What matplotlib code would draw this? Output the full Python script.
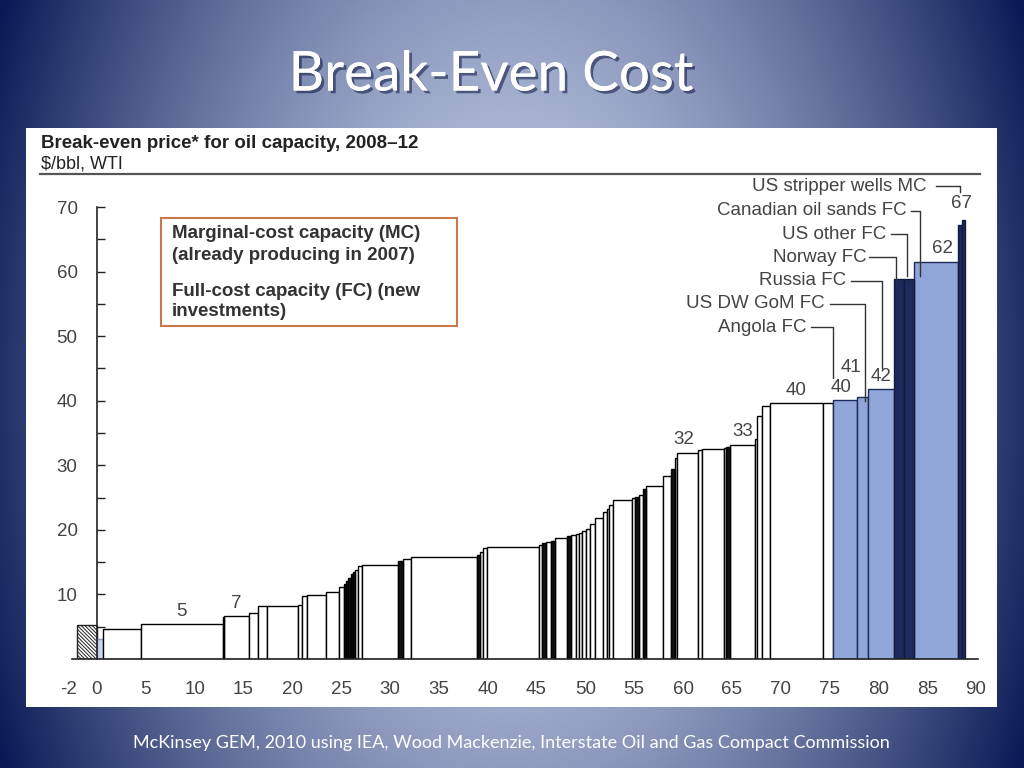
"""
Break-even cost curve for oil capacity (McKinsey GEM slide), rebuilt as a
variable-width bar chart on a blue gradient slide background.

Output: out.png (1024x768)
"""
import numpy as np
import matplotlib
matplotlib.use("Agg")
import matplotlib.pyplot as plt
import matplotlib.patches as mpatches
import matplotlib.patheffects as pe

W, H = 1024, 768

# ── Data ──────────────────────────────────────────────────────────────────────
# capacity segments, read left to right (million bbl/d), starting at -2
START = -2.0
widths = [2.0, 0.6, 3.87, 8.39, 0.14, 2.6, 0.9, 0.9, 3.2, 0.35, 0.55, 1.9, 1.4, 0.5,
          0.22, 0.22, 0.22, 0.22, 0.22, 0.3, 0.45, 3.65, 0.5, 0.8, 6.8, 0.3, 0.3, 0.45,
          5.35, 0.3, 0.4, 0.5, 0.35, 1.25, 0.4, 0.5, 0.4, 0.3, 0.4, 0.4, 0.5, 0.8, 0.4,
          0.25, 0.35, 2.0, 0.3, 0.4, 0.4, 0.35, 1.65, 0.9, 0.4, 0.2, 2.15, 0.35, 2.3,
          0.25, 0.35, 2.55, 0.25, 0.5, 0.85, 5.35, 1.1,
          2.4, 1.15, 2.65, 1.05, 1.0, 4.5, 0.45, 0.25]
# break-even price, $/bbl
heights = [5.2, 3.1, 4.6, 5.4, 6.5, 6.65, 7.1, 8.15, 8.15, 8.4, 9.7, 9.9, 10.35, 11.1,
           11.6, 12.1, 12.6, 13.1, 13.5, 13.8, 14.4, 14.6, 15.2, 15.55, 15.8, 16.1, 16.5, 17.2,
           17.3, 17.7, 18.0, 18.1, 18.3, 18.8, 19.0, 19.2, 19.3, 19.55, 19.9, 20.1, 20.9, 21.9, 22.8,
           23.2, 23.8, 24.7, 24.9, 25.1, 25.4, 26.35, 26.8, 28.3, 29.4, 31.2, 31.9, 32.35, 32.55,
           32.7, 32.85, 33.2, 34.0, 37.7, 39.2, 39.7, 39.7,
           40.1, 40.6, 41.75, 58.8, 58.8, 61.5, 67.2, 68.0]
# h = hatched, p = pale, w = MC white, k = MC dense (black), f = FC blue, n = navy
kinds = ("hpwwkwwwwwwwww" + "kkkkk" + "wwwkwwkwww" + "wkwkwk" + "w" * 12
         + "kwkwwkwwwwwkwwwwww" + "fffnnfnn")
assert len(kinds) == len(widths) == len(heights)

value_labels = ["5", "7", "32", "33", "40", "40", "41", "42", "62", "67"]
value_label_bars = [3, 5, 54, 59, 63, 65, 66, 67, 70, 71]

callouts = ["US stripper wells MC", "Canadian oil sands FC", "US other FC", "Norway FC",
            "Russia FC", "US DW GoM FC", "Angola FC"]

xticks = [-2] + list(range(0, 91, 5))
yticks = list(range(10, 71, 10))

# ── Style ─────────────────────────────────────────────────────────────────────
plt.rcParams.update({
    "font.family": ["Liberation Sans", "DejaVu Sans"],
    "hatch.linewidth": 0.7,
    "figure.dpi": 100,
})
TXT = "#444444"
FILL = {"h": "white", "p": "#c9d5e8", "w": "white", "k": "#111111",
        "f": "#91a6d8", "n": "#1d2b5c"}
EDGE = {"h": "#222222", "p": "#8899bb", "w": "black", "k": "black",
        "f": "#1d2b5c", "n": "#111a3a"}


def fx(px):
    return px / W


def fy(py):
    return 1 - py / H


fig = plt.figure(figsize=(W / 100, H / 100), dpi=100)

# slide background: light centre fading to dark navy at the edges
bg = fig.add_axes([0, 0, 1, 1], zorder=-10)
yy, xx = np.mgrid[0:H, 0:W]
r = np.sqrt(((xx - 512) / 560.0) ** 2 + ((yy - 384) / 900.0) ** 2)
t = np.clip(r, 0, 1)[..., None] ** 1.5
c0 = np.array([196, 207, 232]) / 255
c1 = np.array([10, 26, 86]) / 255
bg.imshow(c0 * (1 - t) + c1 * t, extent=(0, W, H, 0), aspect="auto")
bg.set_axis_off()

fig.text(fx(491), fy(75), "Break-Even Cost", ha="center", va="center",
         fontsize=39.5, color="white", family=["Lato", "DejaVu Sans"],
         path_effects=[pe.withSimplePatchShadow(offset=(2, -2), shadow_rgbFace="#0a1440",
                                                alpha=0.55), pe.Normal()])
fig.text(fx(511), fy(743), "McKinsey GEM, 2010 using IEA, Wood Mackenzie, Interstate Oil and "
         "Gas Compact Commission", ha="center", va="center", fontsize=13,
         color="white", family=["Lato", "DejaVu Sans"])

# white chart panel
fig.patches.append(mpatches.Rectangle((fx(26), fy(707)), fx(997) - fx(26), fy(128) - fy(707),
                                      transform=fig.transFigure, facecolor="white",
                                      edgecolor="none", zorder=-5))
fig.text(fx(41), fy(143), "Break-even price* for oil capacity, 2008\u201312", ha="left",
         va="center", fontsize=13.5, fontweight="bold", color="#222222")
fig.text(fx(41), fy(164), "$/bbl, WTI", ha="left", va="center", fontsize=13,
         color="#222222")
fig.add_artist(plt.Line2D([fx(40), fx(980)], [fy(174), fy(174)], color="#555555",
                          lw=1.6, transform=fig.transFigure))

# ── Chart ─────────────────────────────────────────────────────────────────────
PXX, PXY = 9.767, 6.457          # pixels per data unit
X0, Y0 = 97, 659                 # pixel position of (0, 0)
XL, YL = (-3, 91), (0, 75)
ax = fig.add_axes([fx(X0 + XL[0] * PXX), fy(Y0), (XL[1] - XL[0]) * PXX / W,
                   (YL[1] - YL[0]) * PXY / H])
ax.set_facecolor("none")

lefts = START + np.concatenate([[0], np.cumsum(widths)[:-1]])
for k in "hpwkfn":
    idx = [i for i, kk in enumerate(kinds) if kk == k]
    ax.bar(lefts[idx], [heights[i] for i in idx], width=[widths[i] for i in idx],
           align="edge", color=FILL[k], edgecolor=EDGE[k], linewidth=1.0,
           hatch="\\" * 9 if k == "h" else None, zorder=3)

# value labels above the bars
lab_off = {3: (0, 1.9), 5: (0.0, 2.0), 54: (-0.4, 2.1), 59: (0.0, 2.1), 63: (0.0, 1.9),
           65: (-0.4, 2.0), 66: (-1.2, 4.6), 67: (0.0, 2.0), 70: (0.7, 2.0), 71: (0.1, 3.3)}
for txt, b in zip(value_labels, value_label_bars):
    dx, dy = lab_off[b]
    ax.text(lefts[b] + widths[b] / 2 + dx, heights[b] + dy, txt, ha="center",
            va="center", fontsize=13.5, color=TXT, zorder=6)

# call-out names with leader lines: (text right x, text y, line start x, corner x, end y)
lead = [(84.9, 73.2, 85.9, 88.4, 72.3), (82.9, 69.4, 83.3, 84.3, 59.3),
        (80.8, 65.8, 81.3, 82.9, 59.3), (78.8, 62.2, 79.0, 81.8, 58.7),
        (76.7, 58.6, 77.2, 80.4, 45.0), (74.5, 55.0, 75.0, 78.65, 40.0),
        (72.6, 51.4, 73.1, 75.4, 43.5)]
for name, (tx, ty, x1, x2, y2) in zip(callouts, lead):
    ax.text(tx, ty, name, ha="right", va="center", fontsize=13.5, color=TXT, zorder=6)
    ax.plot([x1, x2, x2], [ty, ty, y2], color="#333333", lw=1.0, clip_on=False, zorder=7)

# legend box (text only, as in the source)
fig.patches.append(mpatches.Rectangle((fx(161), fy(326)), fx(457) - fx(161), fy(218) - fy(326),
                                      transform=fig.transFigure, facecolor="white",
                                      edgecolor="#c8784a", lw=1.5, zorder=5))
for py, s in [(234, "Marginal-cost capacity (MC)"), (255, "(already producing in 2007)"),
              (292, "Full-cost capacity (FC) (new"), (312, "investments)")]:
    fig.text(fx(172), fy(py), s, ha="left", va="center", fontsize=13.5,
             fontweight="bold", color="#333333", zorder=6)

ax.set_xlim(*XL)
ax.set_ylim(*YL)
for sp in ("top", "right"):
    ax.spines[sp].set_visible(False)
ax.spines["left"].set_position(("data", 0))
ax.spines["left"].set_bounds(0, 70)
ax.spines["bottom"].set_bounds(-2.6, 90.2)
for sp in ("left", "bottom"):
    ax.spines[sp].set_linewidth(1.2)
    ax.spines[sp].set_color("#222222")
    ax.spines[sp].set_zorder(8)

ax.set_yticks(yticks)
ax.set_yticks(range(5, 70, 10), minor=True)
ax.tick_params(axis="y", which="both", direction="in", length=6, width=1.0,
               color="#222222", labelsize=13.5, labelcolor=TXT, pad=14)
ax.set_xticks(xticks)
ax.set_xticklabels([str(v) for v in xticks])
ax.tick_params(axis="x", length=0, labelsize=13.5, labelcolor=TXT, pad=16)
ax.get_xticklabels()[0].set_horizontalalignment("right")

fig.savefig("out.png", dpi=100)
